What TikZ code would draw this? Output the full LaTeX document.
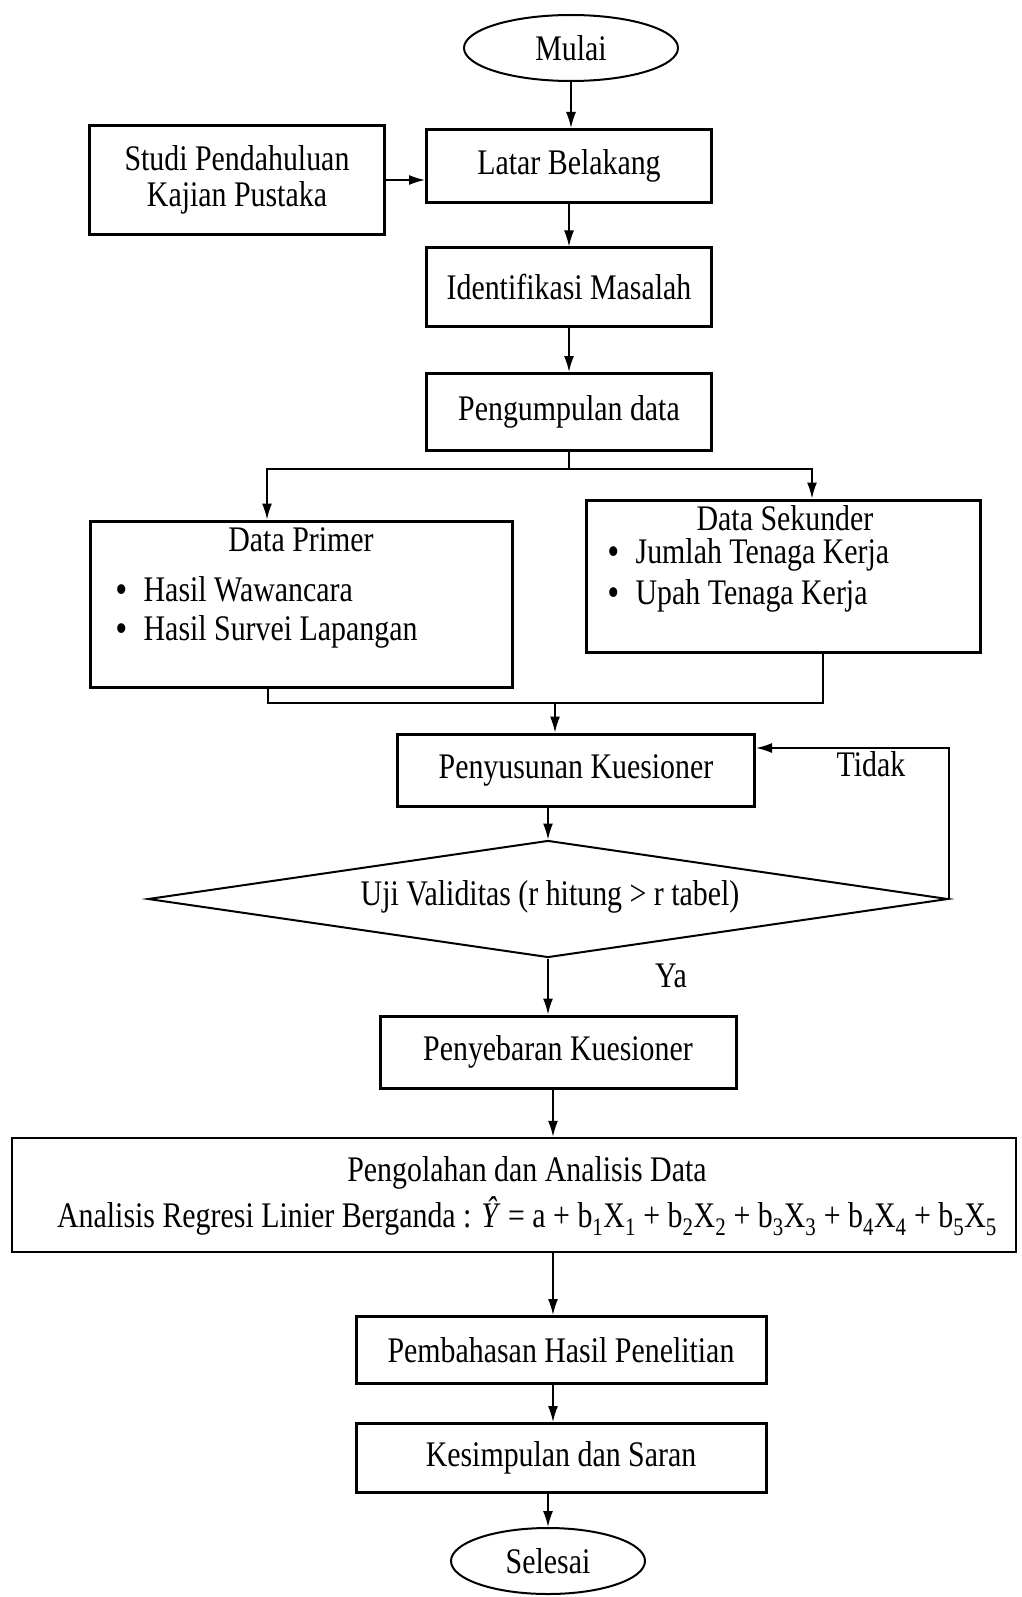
\documentclass[tikz,border=0pt]{standalone}
\usepackage{fontspec}
\setmainfont{Liberation Serif}[FakeStretch=0.83]
\usetikzlibrary{shapes.geometric,arrows.meta}
\newcommand{\bigbul}{\textbf{•}}
\begin{document}
\begin{tikzpicture}[x=1pt,y=-1pt,
  every node/.style={font=\fontsize{36}{36}\selectfont},
  box/.style={draw, line width=3pt, inner sep=0pt, align=center},
  term/.style={draw, ellipse, line width=2pt, inner sep=0pt},
  arr/.style={line width=1.6pt, -{Latex[length=16pt,width=10pt]}},
  ln/.style={line width=1.6pt},
  lbl/.style={inner sep=0pt}]
\useasboundingbox (0,0) rectangle (1021,1597);
\fill[white] (0,0) rectangle (1021,1597);
\node[term, minimum width=214pt, minimum height=66pt] (mulai) at (571,48) {Mulai};
\node[box, minimum width=285pt, minimum height=73pt] (latar) at (569,166) {Latar Belakang};
\node[box, minimum width=295pt, minimum height=109pt] (studi) at (237,180) {Studi Pendahuluan\\Kajian Pustaka};
\node[box, minimum width=285pt, minimum height=78pt] (ident) at (569,287) {Identifikasi Masalah};
\node[box, minimum width=285pt, minimum height=77pt] (kumpul) at (569,412) {Pengumpulan data};
\node[box, minimum width=422pt, minimum height=166pt] (primer) at (301,604) {};
\node[lbl] (primerT) at (301,540) {Data Primer};
\node[lbl, anchor=west] (p1) at (116,589) {\bigbul\hspace{17pt}Hasil Wawancara};
\node[lbl, anchor=west] (p2) at (116,632) {\bigbul\hspace{17pt}Hasil Survei Lapangan};
\node[box, minimum width=394pt, minimum height=152pt] (sekunder) at (783,576) {};
\node[lbl] (sekunderT) at (785,518) {Data Sekunder};
\node[lbl, anchor=west] (s1) at (608,555) {\bigbul\hspace{17pt}Jumlah Tenaga Kerja};
\node[lbl, anchor=west] (s2) at (608,596) {\bigbul\hspace{17pt}Upah Tenaga Kerja};
\node[box, minimum width=357pt, minimum height=72pt] (penyus) at (576,770) {Penyusunan Kuesioner};
\node[diamond, draw, line width=2pt, minimum width=800pt, minimum height=117pt, inner sep=0pt, aspect=7] (uji) at (548,899) {};
\node[lbl] (ujiT) at (550,897) {Uji Validitas (r hitung > r tabel)};
\node[lbl] (tidak) at (871,764) {Tidak};
\node[lbl] (ya) at (671,976) {Ya};
\node[box, minimum width=356pt, minimum height=72pt] (sebar) at (558,1052) {Penyebaran Kuesioner};
\node[box, line width=2.4pt, minimum width=1004pt, minimum height=114pt] (olah) at (514,1195) {};
\node[lbl, align=center] (olahT) at (527,1196) {Pengolahan dan Analisis Data\\[6pt]Analisis Regresi Linier Berganda : \textit{Ŷ} = a + b\textsubscript{1}X\textsubscript{1} + b\textsubscript{2}X\textsubscript{2} + b\textsubscript{3}X\textsubscript{3} + b\textsubscript{4}X\textsubscript{4} + b\textsubscript{5}X\textsubscript{5}};
\node[box, minimum width=410pt, minimum height=67pt] (bahas) at (561,1350) {Pembahasan Hasil Penelitian};
\node[box, minimum width=410pt, minimum height=69pt] (kesim) at (561,1458) {Kesimpulan dan Saran};
\node[term, minimum width=194pt, minimum height=66pt] (selesai) at (548,1561) {Selesai};
% connectors
\coordinate (cx) at (553,0);
\draw[arr] (mulai.south) -- (mulai.south |- latar.north);
\draw[arr] (studi.east) -- (latar.west |- studi.east);
\draw[arr] (latar.south) -- (ident.north);
\draw[arr] (ident.south) -- (kumpul.north);
\coordinate (bl) at (267,469);
\coordinate (brr) at (812,469);
\draw[ln] (kumpul.south) -- (kumpul.south |- bl);
\draw[arr] (kumpul.south |- bl) -- (bl) -- (bl |- primer.north);
\draw[arr] (kumpul.south |- bl) -- (brr) -- (brr |- sekunder.north);
\coordinate (ml) at (268,703);
\coordinate (mr) at (823,703);
\coordinate (mm) at (555,703);
\draw[ln] (ml |- primer.south) -- (ml) -- (mr) -- (mr |- sekunder.south);
\draw[arr] (mm) -- (mm |- penyus.north);
\draw[arr] (penyus.south -| uji.north) -- (uji.north);
\coordinate (tk) at (uji.east |- 0,748);
\draw[arr] (uji.east) -- (tk) -- (tk -| penyus.east);
\draw[arr] (uji.south) -- (uji.south |- sebar.north);
\draw[arr] (sebar.south -| cx) -- (olah.north -| cx);
\draw[arr] (olah.south -| cx) -- (bahas.north -| cx);
\draw[arr] (bahas.south -| cx) -- (kesim.north -| cx);
\draw[arr] (kesim.south -| selesai.north) -- (selesai.north);
\end{tikzpicture}
\end{document}
